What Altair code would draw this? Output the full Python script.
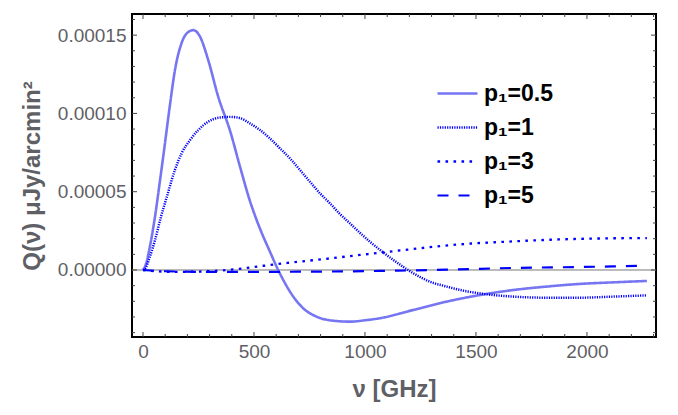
import altair as alt
import pandas as pd

series = ["p₁=0.5", "p₁=1", "p₁=3", "p₁=5"]
colors = ["#7676f2", "#0000ff", "#0000ff", "#0000ff"]
dashes = [[1, 0], [1.2, 1.2], [2.6, 5.4], [11, 10]]
widths = [2.6, 2.2, 3.0, 3.0]

# values in units of 1e-5 µJy/arcmin²
x05 = [0, 9, 31, 54, 77, 99, 122, 144, 174, 204, 227, 257, 294, 339, 392, 437, 482, 512,
       542, 572, 602, 632, 677, 722, 782, 857, 932, 1007, 1068, 1218, 1368, 1518, 1668,
       1818, 1968, 2118, 2270]
y05 = [0, 0.2, 1.49, 3.4, 5.75, 8.09, 10.6, 12.77, 14.5, 15.2, 15.32, 14.9, 13.4, 11.06,
       8.9, 6.6, 4.4, 3.19, 2.13, 1.17, 0.21, -0.64, -1.7, -2.45, -2.98, -3.24, -3.3, -3.2,
       -3.08, -2.55, -2.02, -1.6, -1.28, -1.06, -0.89, -0.79, -0.70]

x1 = [0, 9, 31, 54, 81, 108, 144, 174, 212, 249, 294, 339, 392, 437, 482, 527, 572, 617,
      662, 707, 752, 797, 842, 887, 932, 977, 1022, 1068, 1128, 1218, 1293, 1368, 1443,
      1548, 1668, 1818, 1968, 2118, 2270]
y1 = [0, 0.07, 0.85, 1.9, 3.4, 4.7, 6.4, 7.45, 8.3, 8.94, 9.47, 9.72, 9.78, 9.7, 9.36,
      8.94, 8.4, 7.77, 7.13, 6.39, 5.64, 4.9, 4.26, 3.58, 2.98, 2.38, 1.81, 1.28, 0.64,
      -0.21, -0.75, -1.06, -1.32, -1.55, -1.70, -1.77, -1.77, -1.70, -1.62]

x3 = [0, 50, 150, 250, 350, 450, 543, 650, 750, 842, 978, 1083, 1192, 1342, 1492, 1643,
      1793, 1943, 2093, 2270]
y3 = [0, -0.07, -0.12, -0.1, -0.03, 0.1, 0.27, 0.45, 0.6, 0.74, 0.96, 1.13, 1.3, 1.53, 1.7,
      1.81, 1.91, 1.98, 2.02, 2.04]

x5 = [0, 100, 300, 500, 700, 900, 1068, 1368, 1668, 1968, 2118, 2270]
y5 = [0, -0.08, -0.12, -0.12, -0.11, -0.09, -0.06, 0.02, 0.13, 0.19, 0.23, 0.28]

x_major = [0, 500, 1000, 1500, 2000]
x_minor = [v for v in range(0, 2301, 100) if v % 500 != 0]
y_major = [0.0, 5e-5, 1e-4, 1.5e-4]
y_minor = [-4e-5, -3e-5, -2e-5, -1e-5, 1e-5, 2e-5, 3e-5, 4e-5, 6e-5, 7e-5, 8e-5, 9e-5,
           1.1e-4, 1.2e-4, 1.3e-4, 1.4e-4, 1.6e-4]

rows = []
for i, (name, xs, ys) in enumerate(zip(series, [x05, x1, x3, x5], [y05, y1, y3, y5])):
    for x, y in zip(xs, ys):
        rows.append({"series": name, "nu": x, "Q": y * 1e-5, "k": i})
df = pd.DataFrame(rows)

W, H = 524, 323
FONT = "Liberation Sans"
GREY = "#5f5f66"
x_scale = alt.Scale(domain=[-49.5, 2311], nice=False, zero=False)
y_scale = alt.Scale(domain=[-4.28e-5, 16.35e-5], nice=False, zero=False)

x_axis = alt.Axis(values=x_major, format="d", title="ν [GHz]", ticks=False, domain=False,
                  grid=False, labelPadding=5, titlePadding=16)
y_axis = alt.Axis(values=y_major, format=".5f", title="Q(ν) μJy/arcmin²", ticks=False,
                  domain=False, grid=False, labelPadding=6, titlePadding=13)

leg = alt.Legend(title=None)

zero = alt.Chart(pd.DataFrame({"y": [0.0]})).mark_rule(color="#777777", strokeWidth=1).encode(
    y=alt.Y("y:Q", scale=y_scale, axis=y_axis)
)

lines = alt.Chart(df).mark_line(interpolate="monotone", clip=True).encode(
    x=alt.X("nu:Q", scale=x_scale, axis=x_axis),
    y=alt.Y("Q:Q", scale=y_scale, axis=y_axis),
    color=alt.Color("series:N", scale=alt.Scale(domain=series, range=colors), legend=leg),
    strokeDash=alt.StrokeDash("series:N", scale=alt.Scale(domain=series, range=dashes), legend=leg),
    strokeWidth=alt.StrokeWidth("series:N", scale=alt.Scale(domain=series, range=widths), legend=leg),
    detail="series:N",
    order="nu:Q",
)


def xticks(vals, length):
    d = pd.DataFrame({"v": vals})
    base = alt.Chart(d).mark_rule(color="#444444", strokeWidth=1)
    bottom = base.encode(x=alt.X("v:Q", scale=x_scale, axis=x_axis),
                         y=alt.value(H), y2=alt.value(H - length))
    top = base.encode(x=alt.X("v:Q", scale=x_scale, axis=x_axis),
                      y=alt.value(0), y2=alt.value(length))
    return [bottom, top]


def yticks(vals, length):
    d = pd.DataFrame({"v": vals})
    base = alt.Chart(d).mark_rule(color="#444444", strokeWidth=1)
    left = base.encode(y=alt.Y("v:Q", scale=y_scale, axis=y_axis),
                       x=alt.value(0), x2=alt.value(length))
    right = base.encode(y=alt.Y("v:Q", scale=y_scale, axis=y_axis),
                        x=alt.value(W), x2=alt.value(W - length))
    return [left, right]


layers = [zero, lines] + xticks(x_major, 5) + xticks(x_minor, 3) + yticks(y_major, 5) + yticks(y_minor, 3)

chart = alt.layer(*layers).properties(
    width=W, height=H,
    autosize=alt.AutoSizeParams(type="none"),
    padding={"left": 124, "top": 6, "right": 14, "bottom": 70},
).configure_view(
    stroke="black", strokeWidth=2
).configure_axis(
    labelFont=FONT, labelFontSize=19, labelColor=GREY,
    titleFont=FONT, titleFontSize=24, titleFontWeight="bold", titleColor=GREY,
).configure_legend(
    orient="none", legendX=304, legendY=58,
    symbolType="stroke", symbolSize=1600,
    labelFont=FONT, labelFontSize=23, labelFontWeight="bold", labelColor="black",
    labelOffset=5, rowPadding=-6.3,
)

chart.save("out.html", embed_options={"renderer": "svg", "actions": False})
